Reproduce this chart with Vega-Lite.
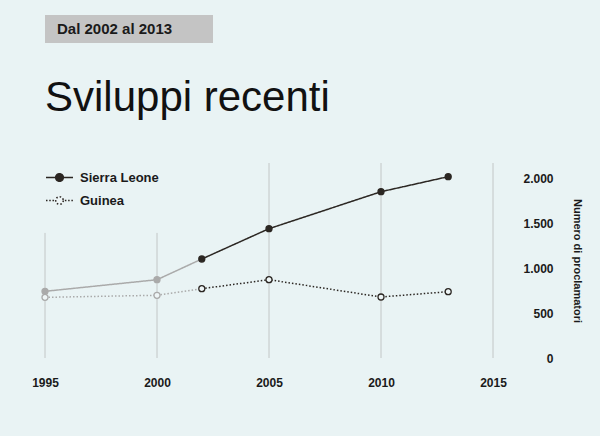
{
  "$schema": "https://vega.github.io/schema/vega-lite/v6.json",
  "background": "#e9f3f4",
  "padding": {"left": 31, "top": 15, "right": 30, "bottom": 60},
  "autosize": {"type": "pad"},
  "config": {
    "font": "Liberation Sans",
    "locale": {"number": {"decimal": ",", "thousands": ".", "grouping": [3], "currency": ["", " €"]}},
    "view": {"stroke": null},
    "concat": {"spacing": 33}
  },
  "resolve": {"legend": {"strokeDash": "independent"}},
  "vconcat": [
    {
      "width": 168,
      "height": 28,
      "data": {"values": [{"box": "Dal 2002 al 2013"}]},
      "mark": {"type": "rect", "color": "#c4c4c4"},
      "title": {
        "text": "Dal 2002 al 2013",
        "anchor": "start",
        "frame": "group",
        "dx": 12,
        "offset": -34,
        "baseline": "alphabetic",
        "fontSize": 15,
        "fontWeight": "bold",
        "color": "#1a1a1a"
      }
    },
    {
      "width": 448,
      "height": 195,
      "title": {
        "text": "Sviluppi recenti",
        "anchor": "start",
        "frame": "group",
        "fontSize": 42,
        "fontWeight": "normal",
        "baseline": "alphabetic",
        "offset": 10,
        "color": "#111111"
      },
      "data": {
        "values": [
          {"country": "Sierra Leone", "year": 1995, "value": 741},
          {"country": "Sierra Leone", "year": 2000, "value": 870},
          {"country": "Sierra Leone", "year": 2002, "value": 1100},
          {"country": "Sierra Leone", "year": 2005, "value": 1437},
          {"country": "Sierra Leone", "year": 2010, "value": 1848},
          {"country": "Sierra Leone", "year": 2013, "value": 2015},
          {"country": "Guinea", "year": 1995, "value": 674},
          {"country": "Guinea", "year": 2000, "value": 697},
          {"country": "Guinea", "year": 2002, "value": 770},
          {"country": "Guinea", "year": 2005, "value": 870},
          {"country": "Guinea", "year": 2010, "value": 678},
          {"country": "Guinea", "year": 2013, "value": 737}
        ]
      },
      "layer": [
        {
          "data": {
            "values": [
              {"year": 1995, "low": 0, "top": 1390},
              {"year": 2000, "low": 0, "top": 1390},
              {"year": 2005, "low": 0, "top": 2167},
              {"year": 2010, "low": 0, "top": 2167},
              {"year": 2015, "low": 0, "top": 2167}
            ]
          },
          "mark": {"type": "rule", "color": "#c2c6c6", "strokeWidth": 1},
          "encoding": {
            "x": {
              "field": "year",
              "type": "quantitative",
              "scale": {"domain": [1995, 2015], "nice": false, "zero": false},
              "axis": {
                "values": [1995, 2000, 2005, 2010, 2015],
                "format": "d",
                "grid": false,
                "ticks": false,
                "domain": false,
                "labelPadding": 19,
                "labelFontSize": 12,
                "labelFontWeight": "bold",
                "labelColor": "#1a1a1a",
                "labelFlush": false,
                "title": null
              }
            },
            "y": {
              "field": "low",
              "type": "quantitative",
              "scale": {"domain": [0, 2167], "nice": false},
              "axis": {
                "orient": "right",
                "values": [0, 500, 1000, 1500, 2000],
                "format": ",d",
                "grid": false,
                "ticks": false,
                "domain": false,
                "labelAlign": "right",
                "labelPadding": 60,
                "labelFontSize": 12,
                "labelFontWeight": "bold",
                "labelColor": "#1a1a1a",
                "title": "Numero di proclamatori",
                "titleFontSize": 11,
                "titleFontWeight": "bold",
                "titleColor": "#1a1a1a",
                "titlePadding": 18
              }
            },
            "y2": {"field": "top"}
          }
        },
        {
          "transform": [{"filter": "datum.year <= 2002"}],
          "mark": {"type": "line", "color": "#aaaaaa", "strokeWidth": 1.5},
          "encoding": {
            "x": {"field": "year", "type": "quantitative"},
            "y": {"field": "value", "type": "quantitative"},
            "strokeDash": {
              "field": "country",
              "type": "nominal",
              "scale": {"domain": ["Sierra Leone", "Guinea"], "range": [[1, 0], [1.5, 2]]}
            }
          }
        },
        {
          "transform": [{"filter": "datum.year >= 2002"}],
          "mark": {"type": "line", "color": "#2b2622", "strokeWidth": 1.5},
          "encoding": {
            "x": {"field": "year", "type": "quantitative"},
            "y": {"field": "value", "type": "quantitative"},
            "strokeDash": {
              "field": "country",
              "type": "nominal",
              "legend": {
                "title": null,
                "orient": "top-left",
                "offset": 0,
                "padding": 0,
                "symbolSize": 729,
                "symbolStrokeWidth": 1.5,
                "symbolStrokeColor": "#2b2622",
                "labelFontSize": 13,
                "labelFontWeight": "bold",
                "labelColor": "#1a1a1a",
                "labelOffset": 6,
                "rowPadding": 1,
                "encoding": {
                  "symbols": {
                    "shape": {"value": {"expr": "datum.value === 'Guinea' ? 'M-1,0H-0.88M-0.76,0H-0.64M-0.52,0H-0.4M0.28,0A0.28,0.28,0,1,1,-0.28,0A0.28,0.28,0,1,1,0.28,0M0.4,0H0.52M0.64,0H0.76M0.88,0H1' : 'M-1,0H1M0.28,0A0.28,0.28,0,1,1,-0.28,0A0.28,0.28,0,1,1,0.28,0'"}},
                    "fill": {"value": {"expr": "datum.value === 'Guinea' ? '#eef5f6' : '#2b2622'"}},
                    "strokeDash": {"value": [1, 0]},
                    "stroke": {"value": "#2b2622"},
                    "strokeWidth": {"value": 1.6}
                  }
                }
              }
            }
          }
        },
        {
          "transform": [{"filter": "datum.year < 2002"}],
          "mark": {"type": "point", "filled": true, "size": 36, "stroke": "#aaaaaa", "strokeWidth": 1.3, "opacity": 1},
          "encoding": {
            "x": {"field": "year", "type": "quantitative"},
            "y": {"field": "value", "type": "quantitative"},
            "fill": {
              "condition": {"test": "datum.country === 'Guinea'", "value": "#eef5f6"},
              "value": "#aaaaaa"
            }
          }
        },
        {
          "transform": [{"filter": "datum.year >= 2002"}],
          "mark": {"type": "point", "filled": true, "size": 36, "stroke": "#2b2622", "strokeWidth": 1.3, "opacity": 1},
          "encoding": {
            "x": {"field": "year", "type": "quantitative"},
            "y": {"field": "value", "type": "quantitative"},
            "fill": {
              "condition": {"test": "datum.country === 'Guinea'", "value": "#eef5f6"},
              "value": "#2b2622"
            }
          }
        }
      ]
    }
  ]
}
